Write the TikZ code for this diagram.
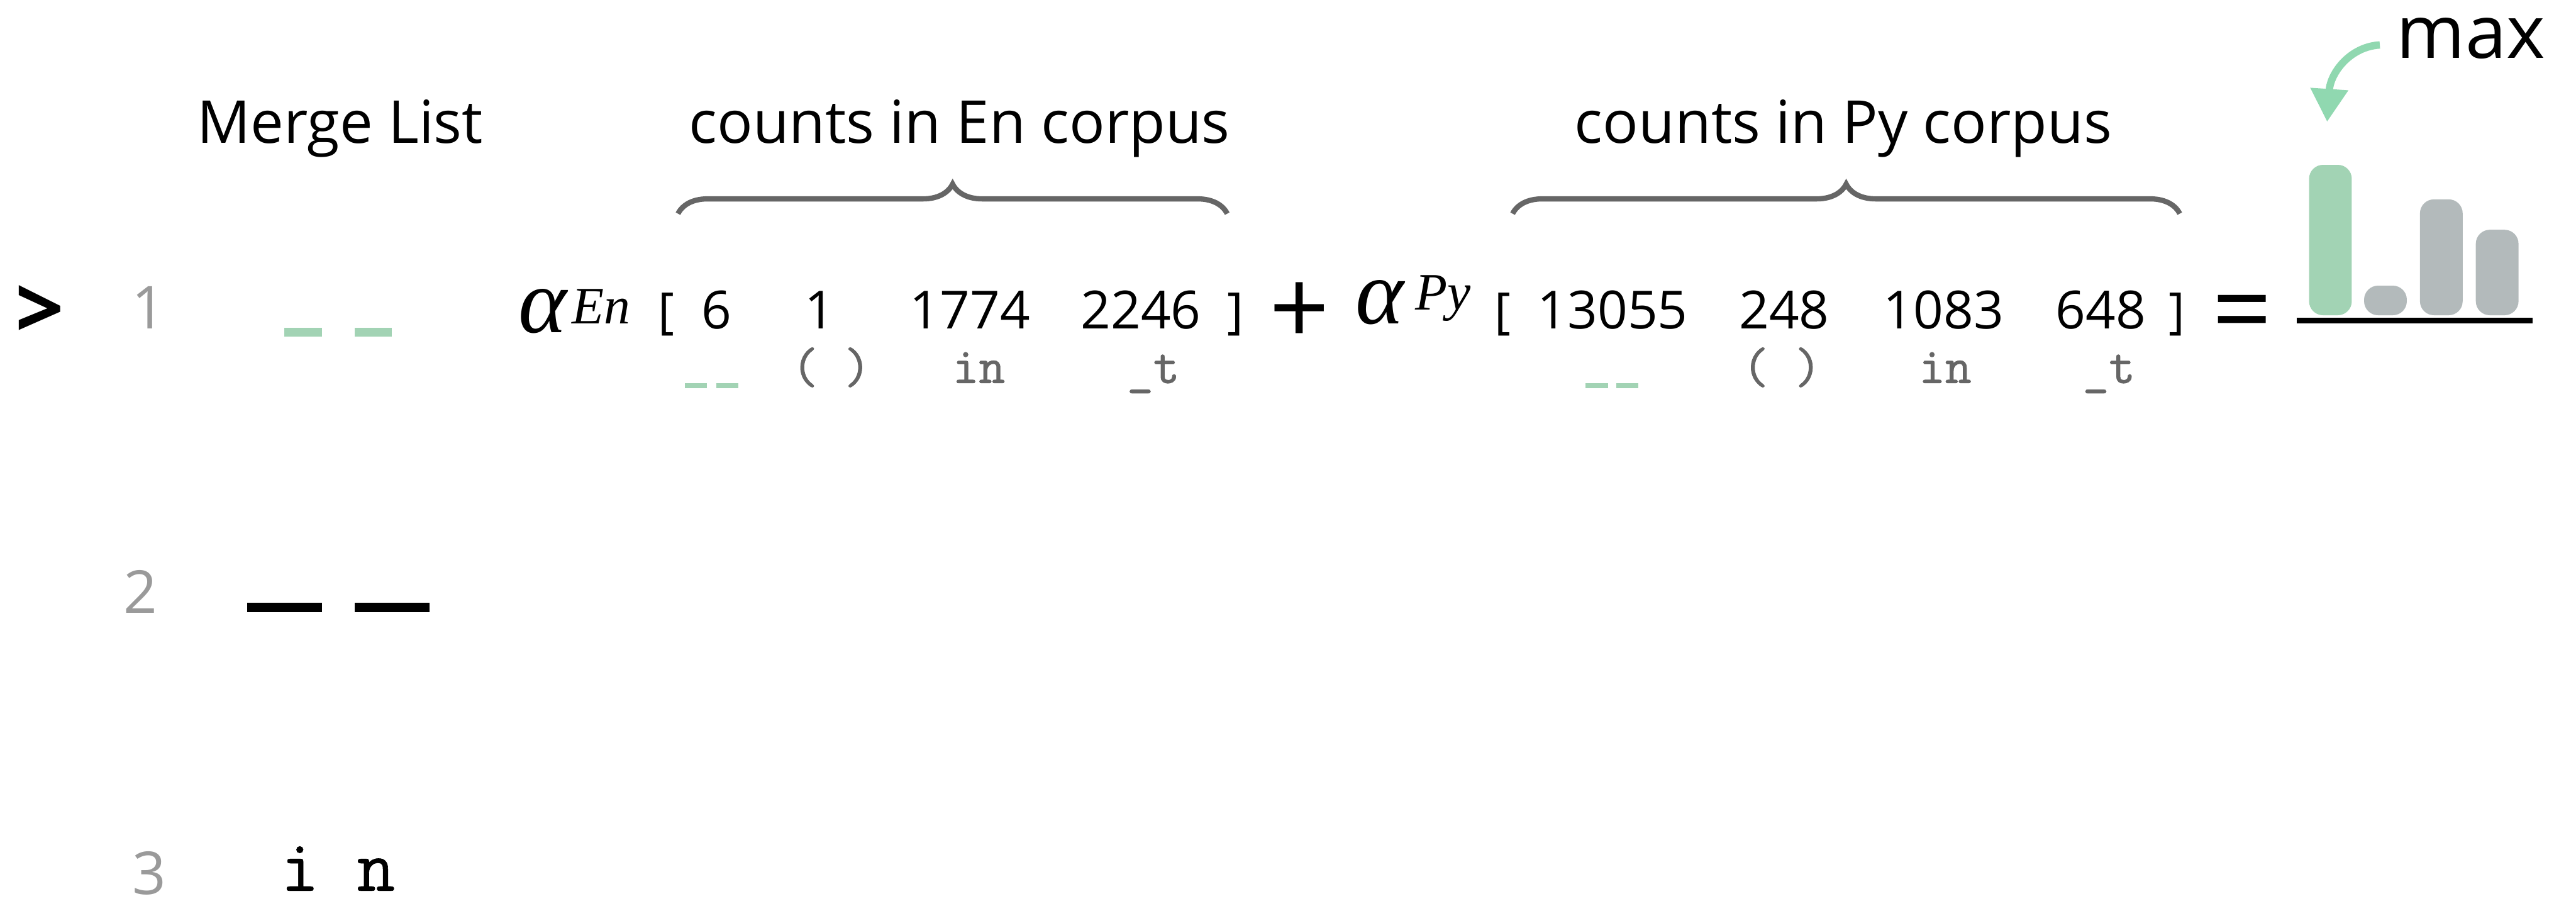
\documentclass[tikz,border=0pt]{standalone}
\usepackage{fontspec}
\setmainfont{Open Sans}
\newfontfamily\greekserif{Liberation Serif}
\newfontfamily\tokfont{Latin Modern Mono}[FakeBold=1.2]
\newfontfamily\mergefont{Latin Modern Mono}[FakeBold=0.5]
\usetikzlibrary{arrows.meta,calc,decorations.pathreplacing}
\definecolor{mgreen}{HTML}{A2D3B4}
\definecolor{arrowgreen}{HTML}{90D8B0}
\definecolor{bargray}{HTML}{B3BABB}
\definecolor{bracegray}{HTML}{666666}
\definecolor{lblgray}{HTML}{666666}
\definecolor{rowgray}{HTML}{9A9A9A}
\newcommand{\TokBars}[3]{\rule{#1}{#3}\hspace{#2}\rule{#1}{#3}}
\tikzset{
  hdr/.style={font=\fontsize{36}{40}\selectfont,inner sep=0pt,anchor=base},
  cntnum/.style={font=\fontsize{32}{36}\selectfont,inner sep=0pt,anchor=base},
  brk/.style={font=\fontsize{30}{36}\selectfont,inner sep=0pt,anchor=base},
  rownum/.style={font=\fontsize{36}{40}\selectfont,text=rowgray,inner sep=0pt,anchor=base},
  toklbl/.style={font=\tokfont\fontsize{31}{34}\selectfont,text=lblgray,inner sep=0pt,anchor=base},
  tokbars/.style={inner sep=0pt,anchor=south west},
  alph/.style={font=\greekserif\itshape\fontsize{56}{60}\selectfont,inner sep=0pt,anchor=base},
  supscr/.style={font=\greekserif\itshape\fontsize{32}{36}\selectfont,inner sep=0pt,anchor=base},
  opsign/.style={font=\fontsize{64}{70}\selectfont,inner sep=0pt},
  cntbar/.style={minimum width=26pt,rounded corners=8.5pt,inner sep=0pt,anchor=south},
  corpus brace/.style={draw=bracegray,line width=3.2pt,decorate,decoration={brace,amplitude=18pt}},
  max arrow/.style={draw=arrowgreen,line width=4.5pt,-{Triangle[length=20pt,width=22pt]}}
}

\begin{document}
\begin{tikzpicture}[x=1pt,y=-1pt]
  \useasboundingbox (0,0) rectangle (1568,551);

  \node[hdr] (mlist) at (207,87) {Merge List};
  \node[hdr] (hEn) at (584,87) {counts in En corpus};
  \node[hdr] (hPy) at (1122,87) {counts in Py corpus};

  \coordinate (bEnL) at (412.7,130);
  \coordinate (bEnR) at (747,130);
  \coordinate (bPyL) at (920.7,130);
  \coordinate (bPyR) at (1326.8,130);
  \draw[corpus brace] (bEnL) -- (bEnR);
  \draw[corpus brace] (bPyL) -- (bPyR);

  \node[font=\bfseries\fontsize{52}{56}\selectfont,inner sep=0pt] (cursor) at (24.2,190) {>};
  \node[rownum] (r1) at (90.5,200.2) {1};
  \node[rownum] (r2) at (85.4,373) {2};
  \node[rownum] (r3) at (90.8,544) {3};
  \node[tokbars,text=mgreen] (m1) at (173,205.1) {\TokBars{22.7pt}{20pt}{5.6pt}};
  \node[tokbars] (m2) at (150.2,372.5) {\TokBars{45.7pt}{19.8pt}{5.4pt}};
  \node[font=\mergefont\fontsize{45}{50}\selectfont,inner sep=0pt,anchor=base] (m3) at (205.7,542) {i n};

  \node[alph] (aEn) at (330.5,202.5) {α};
  \node[supscr] (sEn) at (366,197) {En};
  \node[brk] (lEn) at (405.5,199.5) {[};
  \foreach \x/\v [count=\i] in {436/6,499/1,590.4/1774,694.4/2246}
    \node[cntnum] (en\i) at (\x,200) {\v};
  \node[brk] (rEn) at (752,199.5) {]};
  \node[tokbars,text=mgreen] (tEn1) at (416.7,236.5) {\TokBars{13.4pt}{5.6pt}{3.2pt}};
  \node[toklbl] (tEn2) at (506,233) {( )};
  \node[toklbl] (tEn3) at (595.8,233) {in};
  \node[toklbl] (tEn4) at (702,233) {\_t};

  \node[opsign] (plus) at (791,191) {+};
  \node[alph] (aPy) at (839.8,197) {α};
  \node[supscr] (sPy) at (878.5,188.6) {Py};
  \node[brk] (lPy) at (914.8,199.5) {[};
  \foreach \x/\v [count=\i] in {981.6/13055,1086/248,1183/1083,1278.8/648}
    \node[cntnum] (py\i) at (\x,200) {\v};
  \node[brk] (rPy) at (1325,199.5) {]};
  \node[tokbars,text=mgreen] (tPy1) at (965,236.5) {\TokBars{13.6pt}{5pt}{3.2pt}};
  \node[toklbl] (tPy2) at (1084.6,233) {( )};
  \node[toklbl] (tPy3) at (1184,233) {in};
  \node[toklbl] (tPy4) at (1283.7,233) {\_t};

  \node[opsign] (eqsign) at (1365,195) {=};

  \foreach \x/\h/\c [count=\i] in {1418.5/91.5/mgreen,1452/18/bargray,1486/70.5/bargray,1520/52/bargray}
    \node[cntbar,fill=\c,minimum height=\h pt] (bar\i) at (\x,192) {};
  \coordinate (axL) at (1398,195);
  \coordinate (axR) at (1541.6,195);
  \draw[line width=3.7pt] (axL) -- (axR);

  \node[font=\fontsize{45}{50}\selectfont,inner sep=0pt,anchor=base] (maxlbl) at (1504,35.4) {max};
  \coordinate (arrS) at ($(maxlbl.west)+(-10,4)$);
  \coordinate (arrE) at ($(bar1.north)+(-2,-26)$);
  \draw[max arrow] (arrS) .. controls ($(arrS)+(-18,1)$) and ($(arrE)+(2,-30)$) .. (arrE);
\end{tikzpicture}
\end{document}
